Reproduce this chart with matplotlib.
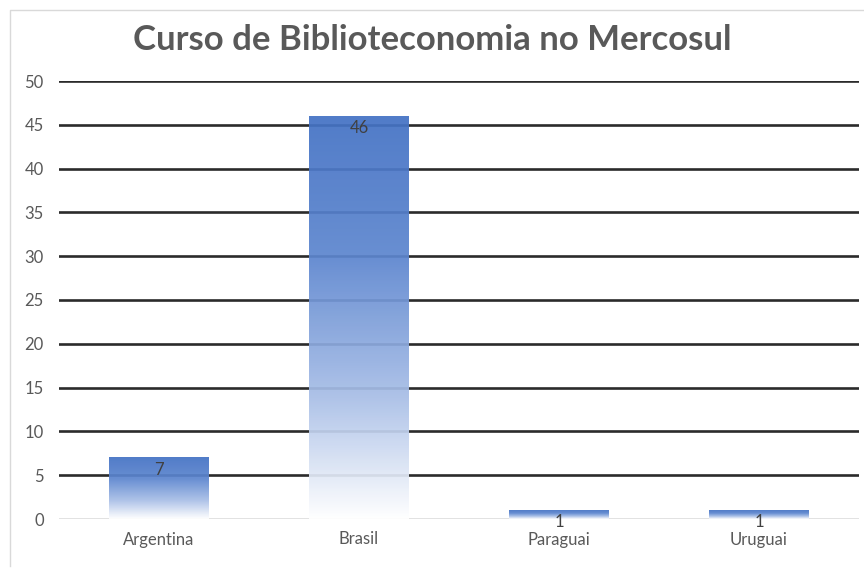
import numpy as np
import matplotlib
matplotlib.use("Agg")
import matplotlib.pyplot as plt
from matplotlib.colors import LinearSegmentedColormap
from matplotlib.lines import Line2D

TITLE = "Curso de Biblioteconomia no Mercosul"
COUNTRIES = ["Argentina", "Brasil", "Paraguai", "Uruguai"]
COURSES = [7, 46, 1, 1]
YTICKS = [0, 5, 10, 15, 20, 25, 30, 35, 40, 45, 50]

plt.rcParams["font.family"] = ["Lato", "DejaVu Sans"]
TXT = "#595959"

# vertical gradient: blue on top, fading to white at the base
grad = LinearSegmentedColormap.from_list(
    "bargrad", [(0.0, "#ffffff"), (0.1, "#e3eaf7"), (0.3, "#a9bfe7"),
                (0.65, "#5d86cf"), (1.0, "#4472c4")])

fig = plt.figure(figsize=(8.64, 5.68), dpi=100)
fig.add_artist(Line2D([10 / 864, 10 / 864, 1.0], [2 / 568, 558 / 568, 558 / 568],
                      transform=fig.transFigure, color="#d9d9d9", lw=1))
ax = fig.add_axes([59 / 864, 49 / 568, 800 / 864, 438 / 568])

x = np.arange(len(COUNTRIES))
ax.set_xlim(-0.5, len(COUNTRIES) - 0.5)
ax.set_ylim(0, 50)

for y in YTICKS[1:]:
    ax.axhline(y, color="#2b2b2b", lw=1.9, zorder=1)
ax.axhline(0, color="#d9d9d9", lw=1.8, zorder=1)

bars = ax.bar(x, COURSES, width=0.5, color="none", zorder=2)
g = np.linspace(0, 1, 256).reshape(-1, 1)
for b in bars:
    x0, w, h = b.get_x(), b.get_width(), b.get_height()
    ax.imshow(g, cmap=grad, origin="lower", aspect="auto", alpha=0.93,
              extent=(x0, x0 + w, 0, h), zorder=2)
for xi, v in zip(x, COURSES):
    ax.annotate(str(v), (xi, v), xytext=(0, -3), textcoords="offset points",
                ha="center", va="top", fontsize=12, color="#404040", zorder=4)

ax.set_xticks(x)
ax.set_xticklabels(COUNTRIES)
ax.set_yticks(YTICKS)
ax.tick_params(length=0, labelsize=12, colors=TXT)
ax.tick_params(axis="x", pad=9)
ax.tick_params(axis="y", pad=11)
for s in ax.spines.values():
    s.set_visible(False)

fig.text(0.5, 1 - 40 / 568, TITLE, ha="center", va="center", fontsize=25,
         fontweight="bold", color=TXT)

fig.savefig("out.png", dpi=100)
